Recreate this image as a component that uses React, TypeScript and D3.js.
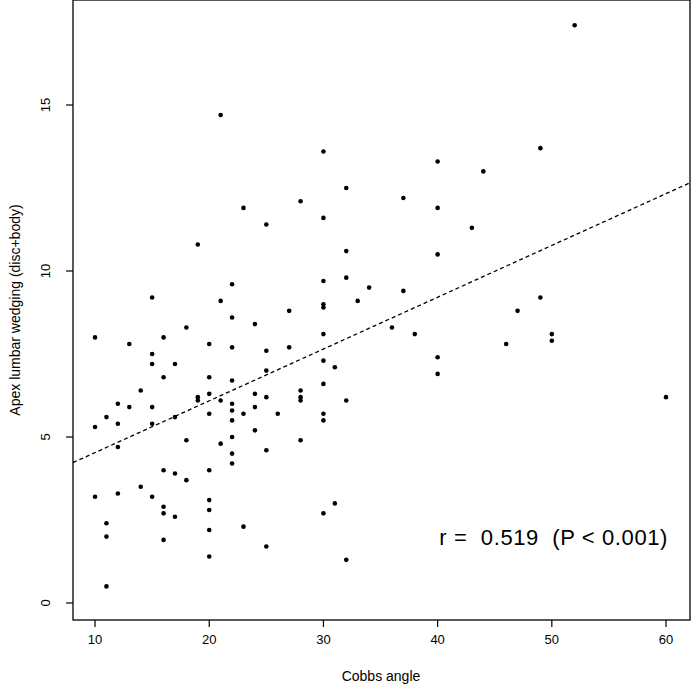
import React from "react";
import * as d3 from "d3";

const cobbs = [10,10,10,11,11,11,11,12,12,12,12,13,13,14,14,15,15,15,15,15,15,16,16,16,16,16,16,17,17,17,17,18,18,18,19,19,19,20,20,20,20,20,20,20,20,20,21,21,21,21,22,22,22,22,22,22,22,22,22,22,23,23,23,24,24,24,24,25,25,25,25,25,25,26,27,27,28,28,28,28,28,30,30,30,30,30,30,30,30,30,30,30,31,31,32,32,32,32,32,33,34,36,37,37,38,40,40,40,40,40,43,44,46,47,49,49,50,50,52,60];
const wedging = [8.0,5.3,3.2,5.6,2.4,2.0,0.5,6.0,5.4,4.7,3.3,7.8,5.9,6.4,3.5,9.2,7.5,7.2,5.9,5.4,3.2,8.0,6.8,4.0,2.9,2.7,1.9,7.2,5.6,3.9,2.6,8.3,4.9,3.7,10.8,6.2,6.1,7.8,6.8,6.3,5.7,4.0,3.1,2.8,2.2,1.4,14.7,9.1,6.1,4.8,9.6,8.6,7.7,6.7,6.0,5.8,5.5,5.0,4.5,4.2,11.9,5.7,2.3,8.4,6.3,5.9,5.2,11.4,7.6,7.0,6.2,4.6,1.7,5.7,8.8,7.7,12.1,6.4,6.2,6.1,4.9,13.6,11.6,9.7,9.0,8.9,8.1,7.3,6.6,5.7,5.5,2.7,7.1,3.0,12.5,10.6,9.8,6.1,1.3,9.1,9.5,8.3,12.2,9.4,8.1,13.3,11.9,10.5,7.4,6.9,11.3,13.0,7.8,8.8,13.7,9.2,8.1,7.9,17.4,6.2];
const xTicks = [10,20,30,40,50,60];
const yTicks = [0,5,10,15];
const fitIntercept = 2.97;
const fitSlope = 0.156;

export default function App() {
  const x = d3.scaleLinear().domain([8.07, 62.1]).range([73, 690]);
  const y = d3.scaleLinear().domain([0, 15]).range([603, 105]);
  const f = (v: number) => fitIntercept + fitSlope * v;
  const font = "Liberation Sans, Arial, sans-serif";
  return (
    <svg width={692} height={692} style={{ position: "absolute", left: 0, top: 0, background: "#fff" }}>
      <rect x={73} y={0} width={617} height={620} fill="none" stroke="#000" strokeWidth={1.3} />
      <line x1={x(8.07)} y1={y(f(8.07))} x2={x(62.1)} y2={y(f(62.1))} stroke="#000" strokeWidth={1.3} strokeDasharray="4,3" />
      {cobbs.map((c, i) => (
        <circle key={i} cx={x(c)} cy={y(wedging[i])} r={2.3} fill="#000" />
      ))}
      {xTicks.map(t => (
        <g key={t}>
          <line x1={x(t)} x2={x(t)} y1={620} y2={627} stroke="#000" strokeWidth={1.2} />
          <text x={x(t)} y={644} fontSize={13} fontFamily={font} textAnchor="middle">{t}</text>
        </g>
      ))}
      {yTicks.map(t => (
        <g key={t}>
          <line x1={66} x2={73} y1={y(t)} y2={y(t)} stroke="#000" strokeWidth={1.2} />
          <text transform={`translate(50,${y(t)}) rotate(-90)`} fontSize={13} fontFamily={font} textAnchor="middle">{t}</text>
        </g>
      ))}
      <text x={381} y={681} fontSize={14} fontFamily={font} textAnchor="middle">Cobbs angle</text>
      <text transform="translate(20,310) rotate(-90)" fontSize={14} fontFamily={font} textAnchor="middle">Apex lumbar wedging (disc+body)</text>
      <text x={668} y={545} fontSize={22} fontFamily={font} textAnchor="end" letterSpacing={0.6} style={{ whiteSpace: "pre" }}>r =  0.519  (P &lt; 0.001)</text>
    </svg>
  );
}
